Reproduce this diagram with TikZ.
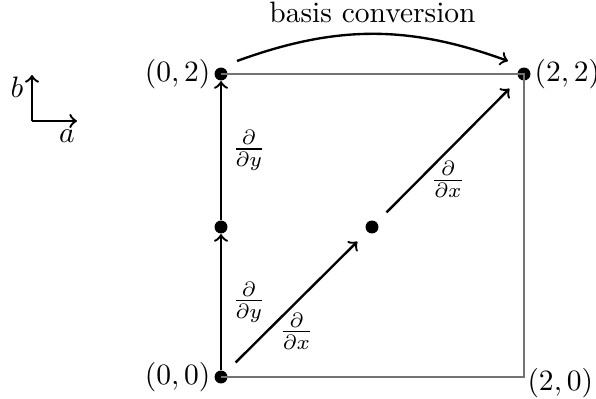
\documentclass[tikz,border=0pt]{standalone}
\begin{document}
\begin{tikzpicture}[x=0.339pt,y=0.339pt,
  dot/.style={circle,fill,inner sep=0pt,minimum size=4.4pt},
  arr/.style={->,thick},
  vlab/.style={inner sep=1.2pt,outer sep=0pt},
  sqedge/.style={black!55,semithick}]
\useasboundingbox (0,0) rectangle (596,398);
% axes
\coordinate (ax0) at (32,277);
\coordinate (axb) at (32,323);
\coordinate (axa) at (77,277);
\draw[->,thick] (ax0) -- (axb);
\draw[->,thick] (ax0) -- (axa);
\node (lb) at (17,311) {$b$};
\node (la) at (67,262) {$a$};
% points
\node[dot] (p00) at (221,21) {};
\node[dot] (p02) at (221,324) {};
\node[dot] (p22) at (524,324) {};
\node[dot] (pm) at (221,171) {};
\node[dot] (pc) at (372,171) {};
\coordinate (p20) at (524,21);
\draw[sqedge] (p00.center) -- (p20) -- (p22.center) -- (p02.center);
% labels
\node[vlab,anchor=east] (t00) at (p00.west) {$(0,0)$};
\node[vlab,anchor=east] (t02) at (p02.west) {$(0,2)$};
\node[vlab,anchor=west] (t22) at (p22.east) {$(2,2)$};
\node[vlab,anchor=west] (t20) at ([yshift=-2pt]p20) {$(2,0)$};
% arrows
\draw[arr] (p00) -- (pm) node[midway,right] (ly1) {$\frac{\partial}{\partial y}$};
\draw[arr] (pm) -- (p02) node[midway,right] (ly2) {$\frac{\partial}{\partial y}$};
\draw[arr,shorten <=7pt,shorten >=7pt] (p00.center) -- (pc.center) node[midway,below] (lx1) {$\frac{\partial}{\partial x}$};
\draw[arr,shorten <=7pt,shorten >=7pt] (pc.center) -- (p22.center) node[midway,below] (lx2) {$\frac{\partial}{\partial x}$};
\draw[arr] ([shift={(16,13)}]p02.center) to[bend left=20] node[midway,above] (lbc) {basis conversion} ([shift={(-16,13)}]p22.center);
\end{tikzpicture}
\end{document}
